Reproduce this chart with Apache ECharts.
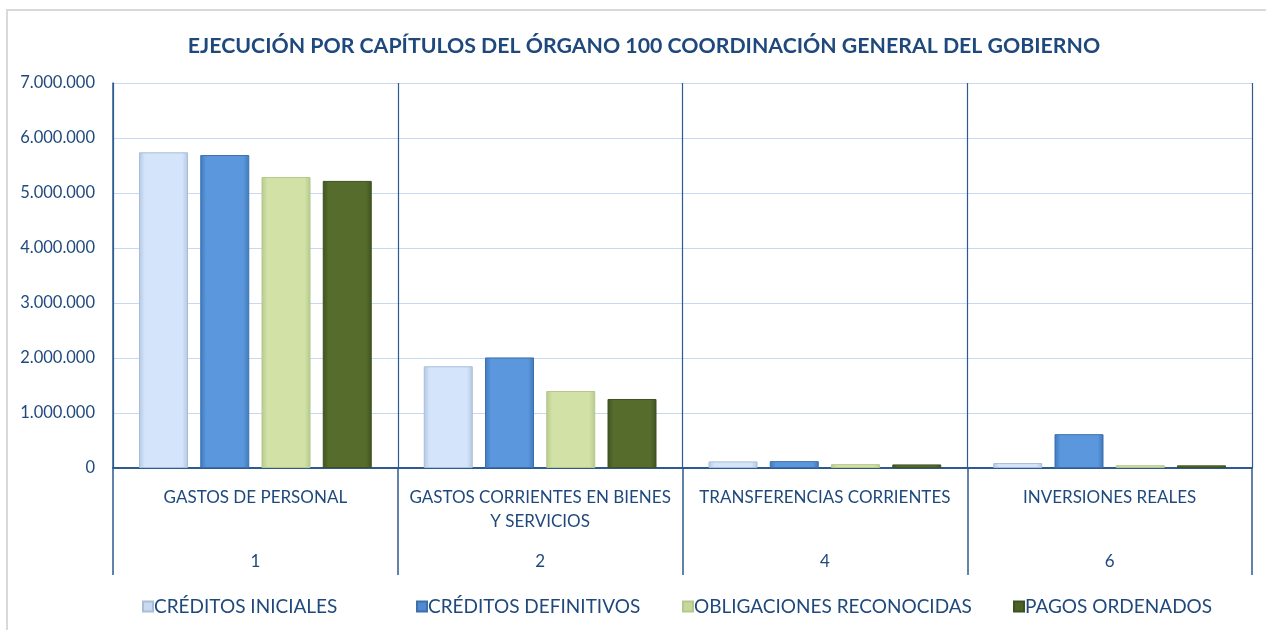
<!DOCTYPE html>
<html>
<head>
<meta charset="utf-8">
<script src="https://cdn.jsdelivr.net/npm/echarts@6/dist/echarts.min.js"></script>
<style>
html,body{margin:0;padding:0;background:#fff;}
#chart{width:1266px;height:630px;}
</style>
</head>
<body>
<div id="chart"></div>
<script>
var categories = ['GASTOS DE PERSONAL', 'GASTOS CORRIENTES EN BIENES\nY SERVICIOS', 'TRANSFERENCIAS CORRIENTES', 'INVERSIONES REALES'];
var chapters = ['1', '2', '4', '6'];
var seriesNames = ['CRÉDITOS INICIALES', 'CRÉDITOS DEFINITIVOS', 'OBLIGACIONES RECONOCIDAS', 'PAGOS ORDENADOS'];
var creditosIniciales = [5740000, 1850000, 120000, 90000];
var creditosDefinitivos = [5690000, 2010000, 125000, 615000];
var obligacionesReconocidas = [5290000, 1400000, 70000, 50000];
var pagosOrdenados = [5220000, 1255000, 65000, 48000];
var yTicks = [0, 1000000, 2000000, 3000000, 4000000, 5000000, 6000000, 7000000];

var textColor = '#1F497D';
var axisColor = '#2E5B8F';
var font = 'Lato, "Open Sans", sans-serif';

function grad(edge, mid) {
  return new echarts.graphic.LinearGradient(0, 0, 1, 0, [
    {offset: 0, color: edge},
    {offset: 0.12, color: mid},
    {offset: 0.88, color: mid},
    {offset: 1, color: edge}
  ]);
}
var styles = [
  {color: grad('#b4c8e2', '#d3e4fb'), borderColor: '#a9bdd8'},
  {color: grad('#3f78bd', '#5b97dc'), borderColor: '#3d6fae'},
  {color: grad('#b6c88c', '#d2e2a6'), borderColor: '#b5c78c'},
  {color: grad('#3f5220', '#566c2c'), borderColor: '#3e5121'}
];
var legendColors = ['#c9d9ee', '#4f8bd0', '#c8d89a', '#4d6326'];
var legendLefts = [142, 416, 682, 1013];
var dataSets = [creditosIniciales, creditosDefinitivos, obligacionesReconocidas, pagosOrdenados];

var series = seriesNames.map(function (n, i) {
  return {
    name: n,
    type: 'bar',
    xAxisIndex: 0,
    data: dataSets[i],
    barWidth: 49,
    barGap: '25%',
    itemStyle: {color: styles[i].color, borderColor: styles[i].borderColor, borderWidth: 1},
    emphasis: {disabled: true}
  };
});

var legends = seriesNames.map(function (n, i) {
  return {
    data: [{name: n, itemStyle: {color: legendColors[i]}}],
    left: legendLefts[i], top: 597,
    padding: 0,
    itemWidth: 10, itemHeight: 10,
    icon: 'rect',
    selectedMode: false,
    textStyle: {color: textColor, fontFamily: font, fontSize: 19, padding: [0, 0, 0, -4]}
  };
});

function fmt(v) {
  return String(v).replace(/\B(?=(\d{3})+(?!\d))/g, '.');
}

var chart = echarts.init(document.getElementById('chart'), null, {renderer: 'canvas'});
chart.setOption({
  animation: false,
  backgroundColor: '#ffffff',
  color: legendColors,
  title: {
    text: 'EJECUCIÓN POR CAPÍTULOS DEL ÓRGANO 100 COORDINACIÓN GENERAL DEL GOBIERNO',
    left: 639, top: 31, textAlign: 'center',
    textStyle: {color: textColor, fontFamily: font, fontWeight: 'bold', fontSize: 21.3}
  },
  graphic: [{
    type: 'rect', silent: true,
    shape: {x: 7, y: 10, width: 1275, height: 640},
    style: {fill: null, stroke: '#d9d9d9', lineWidth: 2}
  }],
  legend: legends,
  grid: {left: 113, right: 14, top: 83, bottom: 162, containLabel: false},
  xAxis: [{
    type: 'category',
    data: categories,
    position: 'bottom',
    axisLine: {show: true, lineStyle: {color: axisColor, width: 2}},
    axisTick: {show: true, length: 107, alignWithLabel: false, lineStyle: {color: axisColor, width: 1.5}},
    splitLine: {show: true, lineStyle: {color: axisColor, width: 1.2}},
    axisLabel: {color: textColor, fontFamily: font, fontSize: 17, margin: 18, lineHeight: 24, interval: 0}
  }, {
    type: 'category',
    data: chapters,
    position: 'bottom',
    gridIndex: 0,
    axisLine: {show: false},
    axisTick: {show: false},
    splitLine: {show: false},
    axisLabel: {color: textColor, fontFamily: font, fontSize: 17, margin: 85, interval: 0}
  }],
  yAxis: {
    type: 'value',
    min: yTicks[0], max: yTicks[yTicks.length - 1], interval: yTicks[1] - yTicks[0],
    axisLine: {show: true, lineStyle: {color: axisColor, width: 1.5}},
    axisTick: {show: false},
    splitLine: {show: true, lineStyle: {color: '#c6d9f1', width: 1.2}},
    axisLabel: {color: textColor, fontFamily: font, fontSize: 16.5, margin: 18, formatter: fmt}
  },
  series: series
});
</script>
</body>
</html>
